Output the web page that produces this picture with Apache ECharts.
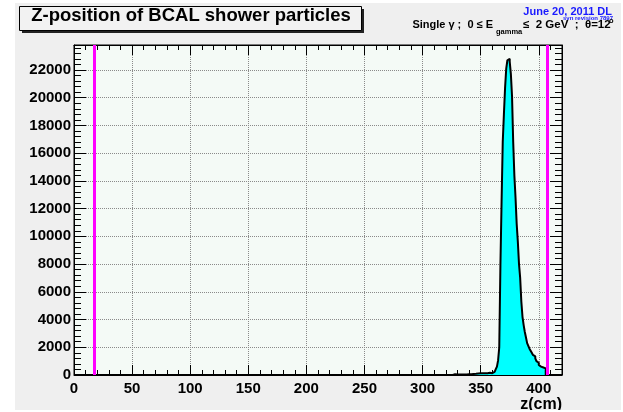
<!DOCTYPE html>
<html>
<head>
<meta charset="utf-8">
<script src="https://cdn.jsdelivr.net/npm/echarts@6/dist/echarts.min.js"></script>
<style>
  html, body { margin: 0; padding: 0; background: #fff; }
  #chart { position: absolute; left: 15px; top: 3px; width: 606px; height: 407px; }
</style>
</head>
<body>
<div id="chart"></div>
<script>
// z histogram, 1 cm bins; only the filled bins are listed, from binStart on
const binStart = 326
const binWidth = 1
const counts = [
  30, 60, 40, 30, 50, 40, 20, 30, 20, 30,              // 326-335
  40, 30, 40, 50, 60, 50, 70, 80, 90, 90,              // 336-345
  100, 110, 100, 120, 110, 120, 130, 120, 140, 130,    // 346-355
  150, 160, 100, 130, 170, 220, 300, 420, 600, 1050,   // 356-365
  2000, 7900, 12500, 16800, 18800, 20700, 22100, 22700, 22800, 22600, // 366-375
  21700, 20100, 16800, 14400, 12800, 10900, 9600, 8000, 7000, 5300,   // 376-385
  4200, 3600, 3100, 2700, 2300, 2100, 1900, 1750, 1600, 1450,         // 386-395
  1350, 1200, 1000, 880, 720, 600, 560, 540, 520, 480                 // 396-405
]
const zMin = 0
const zMax = 420
const yMax = 23800
const bcalEdges = [17, 407]   // magenta lines

const chart = echarts.init(document.getElementById('chart'))

// step points: low edge of every bin, closed back to zero after the last one
const histData = [[zMin, 0]]
counts.forEach((c, i) => histData.push([binStart + i * binWidth, c]))
histData.push([binStart + counts.length * binWidth, 0])
histData.push([zMax, 0])

const bold = { fontFamily: 'Liberation Sans', fontWeight: 'bold', color: '#000' }
const txt = (s) => Object.assign({ fontFamily: 'Liberation Sans', fontWeight: 'bold', fill: '#000', verticalAlign: 'middle' }, s)

const xBase = {
  type: 'value', min: zMin, max: zMax, interval: 50,
  axisLine: { show: true, onZero: false, lineStyle: { color: '#000', width: 1 } },
  axisTick: { show: true, inside: true, length: 10, lineStyle: { color: '#000' } },
  minorTick: { show: true, splitNumber: 5, length: 5, lineStyle: { color: '#000' } },
}
const yBase = {
  type: 'value', min: 0, max: yMax, interval: 2000,
  axisLine: { show: true, onZero: false, lineStyle: { color: '#000', width: 1 } },
  axisTick: { show: true, inside: true, length: 12, lineStyle: { color: '#000' } },
  minorTick: { show: true, splitNumber: 5, length: 7, lineStyle: { color: '#000' } },
}

chart.setOption({
  animation: false,
  backgroundColor: '#efefef',
  grid: {
    left: 59, top: 42, width: 488, height: 330,
    show: true, backgroundColor: '#f4faf6', borderColor: '#000', borderWidth: 1
  },
  xAxis: [
    Object.assign({}, xBase, {
      position: 'bottom',
      splitLine: { show: true, lineStyle: { color: '#8a8a8a', type: 'dotted', width: 1 } },
      axisLabel: Object.assign({ fontSize: 15, margin: 6, showMaxLabel: false, formatter: v => String(v) }, bold),
    }),
    Object.assign({}, xBase, {
      position: 'top',
      splitLine: { show: false },
      axisLabel: { show: false },
    }),
  ],
  yAxis: [
    Object.assign({}, yBase, {
      position: 'left',
      splitLine: { show: true, lineStyle: { color: '#8a8a8a', type: 'dotted', width: 1 } },
      axisLabel: Object.assign({ fontSize: 15, margin: 3, showMaxLabel: false, formatter: v => String(v) }, bold),
    }),
    Object.assign({}, yBase, {
      position: 'right',
      splitLine: { show: false },
      axisLabel: { show: false },
    }),
  ],
  series: [{
    type: 'line',
    step: 'end',
    data: histData,
    showSymbol: false,
    symbol: 'none',
    lineStyle: { color: '#000', width: 2 },
    areaStyle: { color: '#00ffff', opacity: 1, origin: 'start' },
    markLine: {
      silent: true,
      symbol: 'none',
      label: { show: false },
      lineStyle: { color: '#ff00ff', width: 3, type: 'solid' },
      data: bcalEdges.map(z => ({ xAxis: z }))
    }
  }],
  graphic: [
    { type: 'rect', left: 7, top: 6, shape: { width: 342, height: 24 }, style: { fill: '#222' } },
    { type: 'rect', left: 4, top: 3, shape: { width: 342, height: 24 }, style: { fill: '#f2f2f2', stroke: '#000', lineWidth: 1 } },
    { type: 'text', x: 176, y: 13, style: txt({ text: 'Z-position of BCAL shower particles', fontSize: 18.5, align: 'center' }) },
    { type: 'text', x: 597, y: 9, style: txt({ text: 'June 20, 2011 DL', fontSize: 11, fill: '#1a1aff', align: 'right' }) },
    { type: 'text', x: 598, y: 15.5, style: txt({ text: 'svn revision 7897', fontSize: 6, fill: '#1a1aff', align: 'right' }) },
    { type: 'text', x: 478, y: 21.5, style: txt({ text: 'Single γ ;  0 ≤ E', fontSize: 11, align: 'right' }) },
    { type: 'text', x: 481, y: 29, style: txt({ text: 'gamma', fontSize: 7.5, align: 'left' }) },
    { type: 'text', x: 508, y: 21.5, style: txt({ text: '≤  2 GeV  ;  θ=12', fontSize: 11.5, align: 'left' }) },
    { type: 'text', x: 594, y: 17.5, style: txt({ text: 'o', fontSize: 7.5, align: 'left' }) },
    { type: 'text', x: 547, y: 402, style: txt({ text: 'z(cm)', fontSize: 16, align: 'right' }) }
  ]
})
</script>
</body>
</html>
